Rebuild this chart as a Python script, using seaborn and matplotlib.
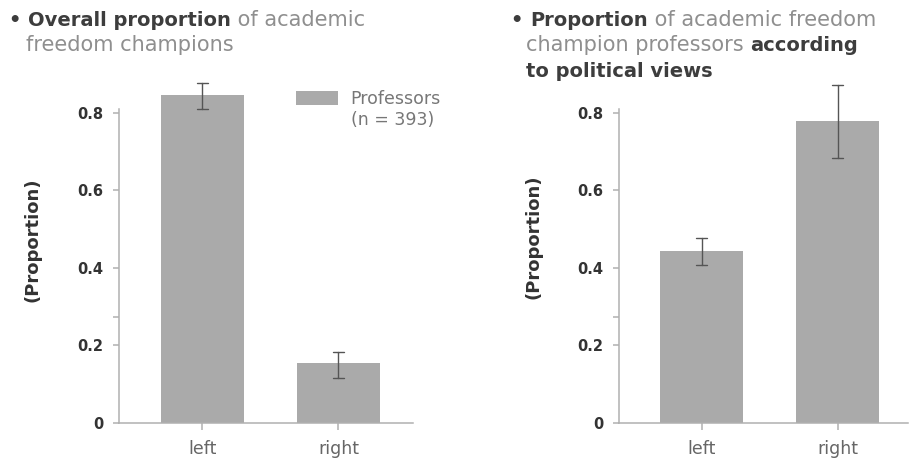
import numpy as np
import pandas as pd
import matplotlib
matplotlib.use("Agg")
import matplotlib.pyplot as plt
from matplotlib.patches import Patch
import seaborn as sns

# Data
categories = ["left", "right"]

overall_prop = [0.845, 0.155]
overall_lo = [0.811, 0.117]
overall_hi = [0.878, 0.183]

views_prop = [0.443, 0.778]
views_lo = [0.407, 0.683]
views_hi = [0.477, 0.871]

ytick_vals = [0, 0.2, 0.273, 0.4, 0.6, 0.8]
ytick_labels = ["0", "0.2", "", "0.4", "0.6", "0.8"]

BAR = "#aaaaaa"
DARK = "#3d3d3d"
GREY = "#8f8f8f"
AXIS = "#b0b0b0"
W, H = 909, 458


def long_table(prop, lo, hi):
    # three rows per category: median = value, min/max = error bar ends
    rows = []
    for c, p, l, h in zip(categories, prop, lo, hi):
        for v in (l, p, h):
            rows.append({"side": c, "value": v})
    return pd.DataFrame(rows)


def draw_panel(ax, df, xlim):
    sns.barplot(data=df, x="side", y="value", ax=ax, color=BAR, saturation=1,
                width=0.61, estimator="median", linewidth=0,
                errorbar=lambda v: (v.min(), v.max()), capsize=0.075,
                err_kws={"color": "#555555", "linewidth": 1.0})
    for ln in ax.lines:
        ln.set_clip_on(False)
    for p in ax.patches:
        p.set_clip_on(False)
    ax.set_xlim(*xlim)
    ax.set_ylim(0, 0.81)
    ax.set_xlabel("")
    ax.set_ylabel("(Proportion)", fontsize=13, fontweight="bold", color="#333333")
    ax.set_yticks(ytick_vals)
    ax.set_yticklabels(ytick_labels)
    ax.yaxis.get_major_ticks()[0].tick1line.set_visible(False)
    for s in ["top", "right"]:
        ax.spines[s].set_visible(False)
    for s in ["left", "bottom"]:
        ax.spines[s].set_color(AXIS)
        ax.spines[s].set_linewidth(1.1)
    ax.tick_params(axis="y", left=True, length=4.5, width=1.1, color=AXIS, pad=7,
                   labelsize=10.5, labelcolor="#333333")
    ax.tick_params(axis="x", bottom=True, length=5, width=1.1, color=AXIS, pad=7,
                   labelsize=12.5, labelcolor="#666666")
    for lab in ax.get_yticklabels():
        lab.set_fontweight("bold")


def rich_line(fig, x_px, y_px, parts):
    renderer = fig.canvas.get_renderer()
    for txt, weight, color in parts:
        size = 14 if weight == "bold" else 15
        t = fig.text(x_px / W, 1 - y_px / H, txt, fontsize=size, fontweight=weight,
                     color=color, ha="left", va="baseline")
        x_px += t.get_window_extent(renderer).width


sns.set_theme(style="white")
plt.rcParams["font.family"] = ["DejaVu Sans"]

fig = plt.figure(figsize=(W / 100, H / 100), dpi=100)
ax1 = fig.add_axes([119 / W, 35 / H, 294 / W, 314 / H])
ax2 = fig.add_axes([619 / W, 35 / H, 289 / W, 314 / H])

draw_panel(ax1, long_table(overall_prop, overall_lo, overall_hi), (-0.614, 1.548))
draw_panel(ax2, long_table(views_prop, views_lo, views_hi), (-0.607, 1.518))

ax1.yaxis.set_label_coords(-0.262, 0.583)
ax2.yaxis.set_label_coords(-0.263, 0.594)

# legend on the left panel
handles = [Patch(facecolor=BAR, edgecolor="none"), Patch(facecolor="none", edgecolor="none")]
ax1.legend(handles, ["Professors", "(n = 393)"], loc="upper left",
           bbox_to_anchor=(0.602, 1.06), frameon=False, fontsize=12.5,
           labelcolor="#777777", handlelength=2.4, handleheight=0.8,
           handletextpad=0.75, labelspacing=0.15, borderpad=0, borderaxespad=0)

# titles with mixed weights
rich_line(fig, 9, 26, [("• ", "bold", DARK), ("Overall proportion", "bold", DARK),
                       (" of academic", "normal", GREY)])
rich_line(fig, 26, 51, [("freedom champions", "normal", GREY)])
rich_line(fig, 511, 26, [("• ", "bold", DARK), ("Proportion", "bold", DARK),
                         (" of academic freedom", "normal", GREY)])
rich_line(fig, 526, 51, [("champion professors ", "normal", GREY), ("according", "bold", DARK)])
rich_line(fig, 526, 77, [("to political views", "bold", DARK)])

fig.savefig("out.png", dpi=100)
